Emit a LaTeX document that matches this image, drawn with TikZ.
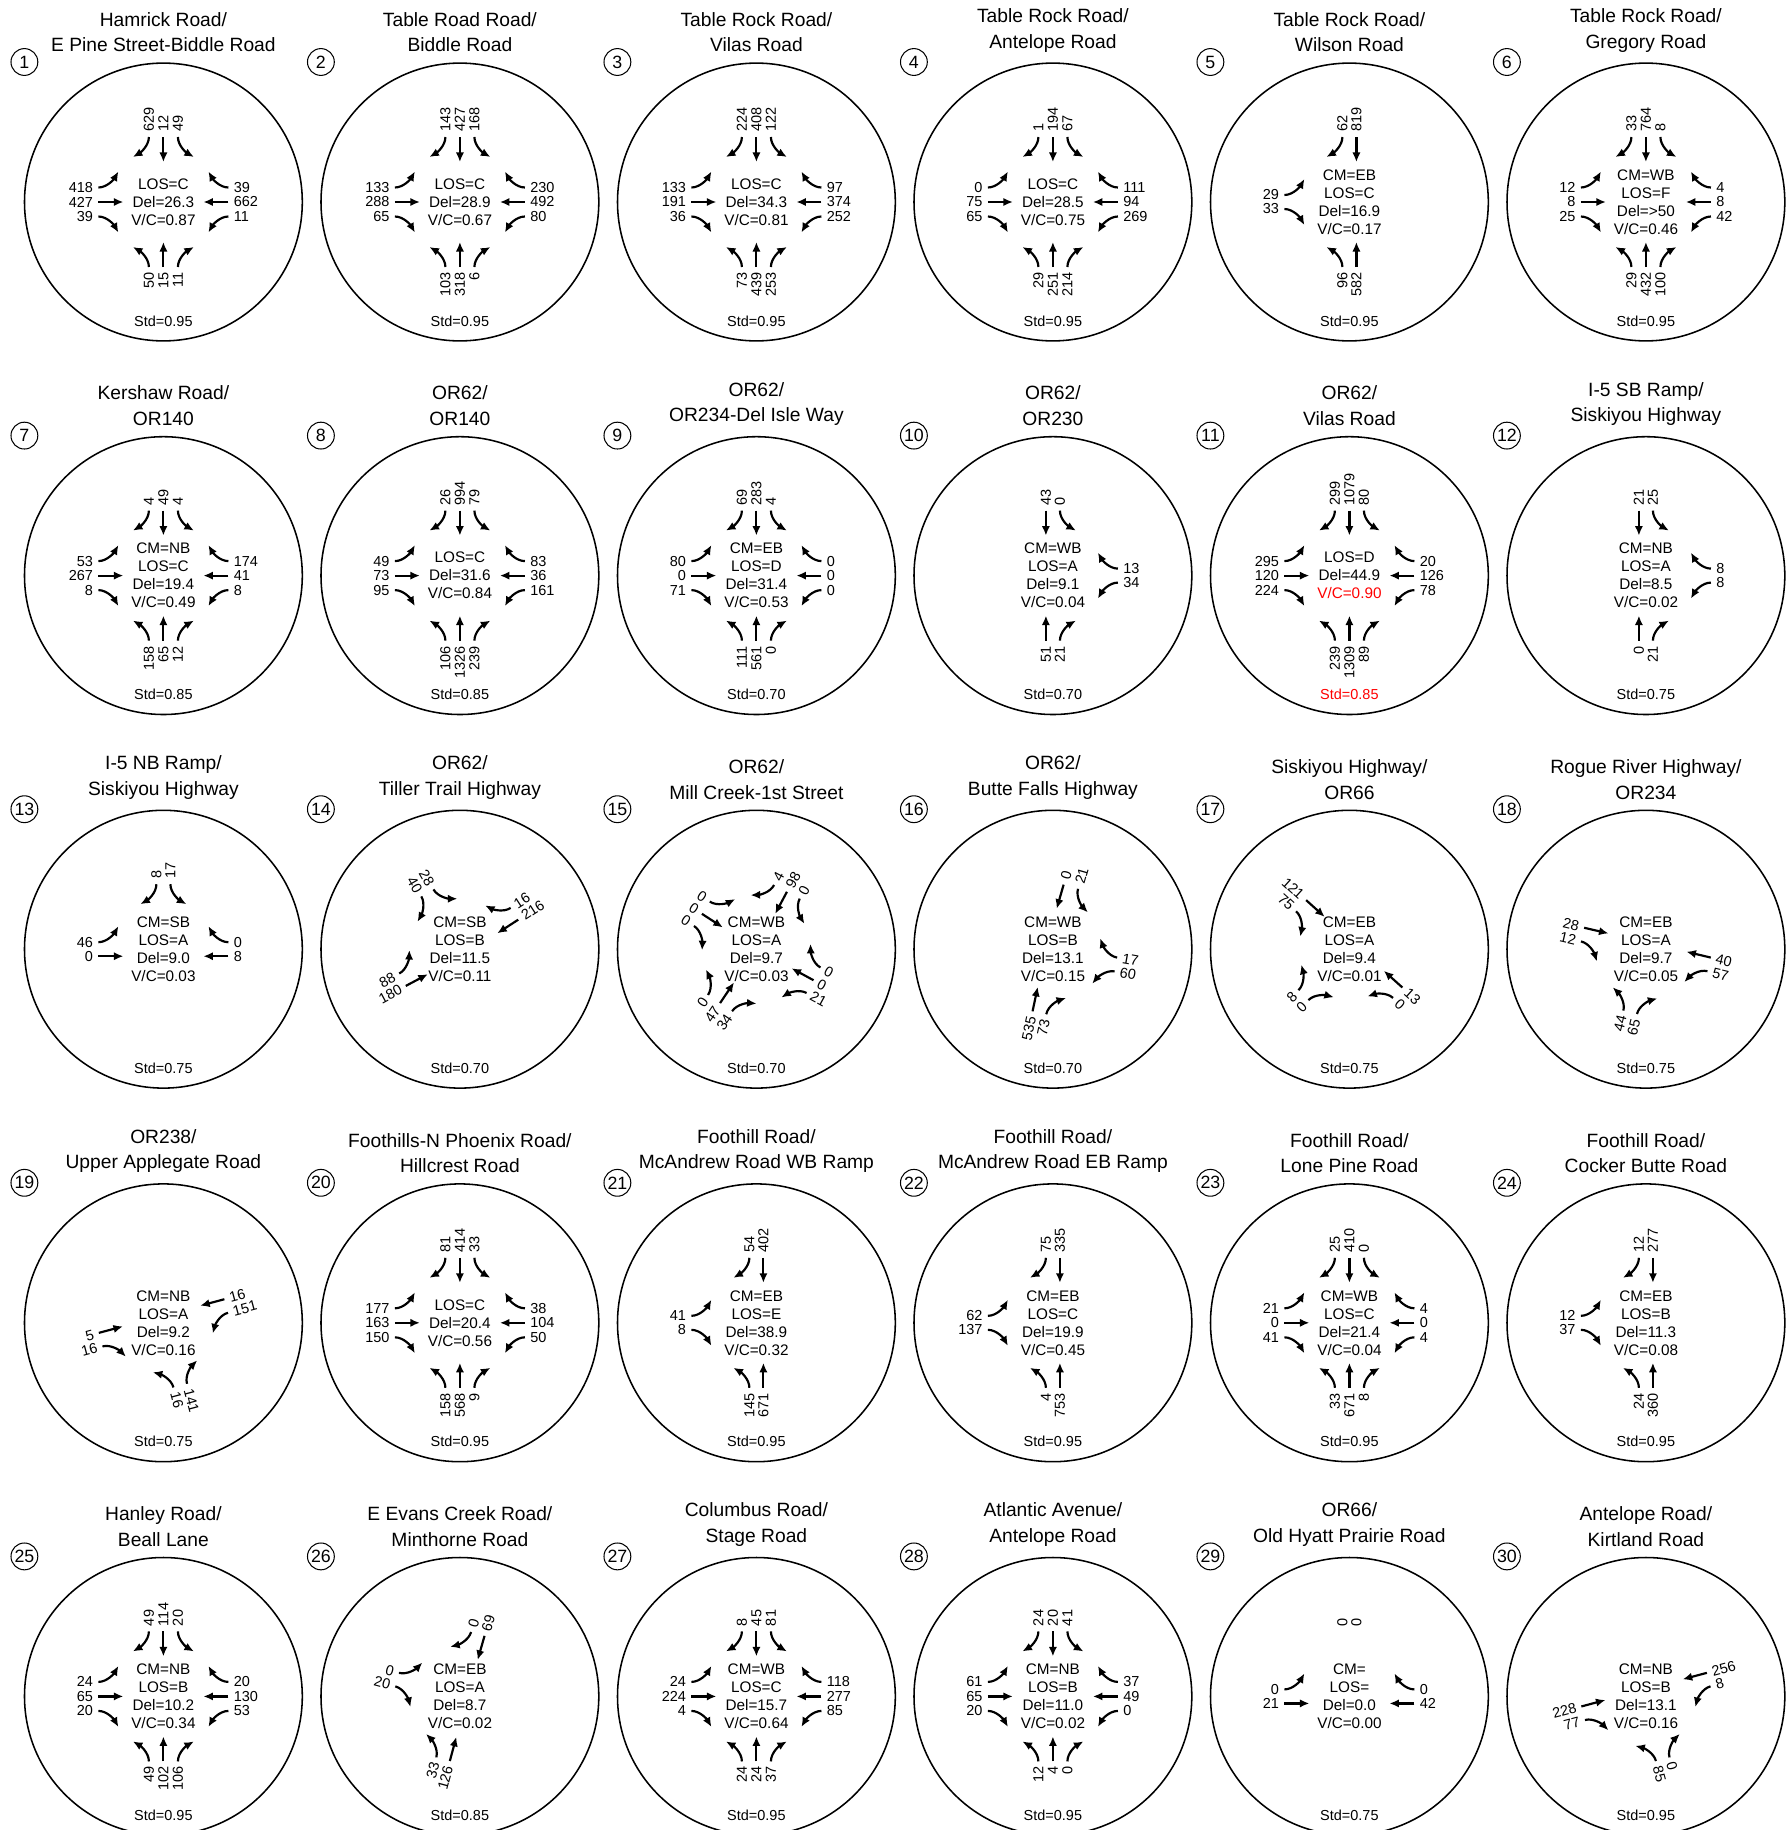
\documentclass[tikz,border=0pt]{standalone}
\usepackage{fontspec}
\setmainfont{Liberation Sans}
\usetikzlibrary{arrows.meta}

\tikzset{
  ring/.style={line width=0.75pt},
  mv/.style={line width=1.05pt,-{Latex[length=4.6pt,width=4pt]}},
  vol/.style={inner sep=0pt,font=\fontsize{7}{8}\selectfont},
  info/.style={inner sep=0pt,align=center,font=\fontsize{7.4}{8.7}\selectfont},
  ttl/.style={inner sep=0pt,align=center,anchor=south,font=\fontsize{9.3}{12.4}\selectfont},
  idx/.style={circle,draw,line width=0.5pt,inner sep=0pt,minimum size=0.456cm,font=\fontsize{8.6}{9}\selectfont},
}

%% movement arrows, local frame: traffic runs along +x
\newcommand\mvT{\draw[mv] (-65,\ly) -- (-40,\ly);}
\newcommand\mvA{%
  \pgfmathsetmacro\lya{\ly-9*\sg}\pgfmathsetmacro\lyb{\ly-16*\sg}%
  \draw[mv] (-65,\ly) .. controls (-56,\ly) and (-49,\lya) .. (-45,\lyb);}
\newcommand\mvB{%
  \pgfmathsetmacro\lya{\ly+9*\sg}\pgfmathsetmacro\lyb{\ly+16*\sg}%
  \draw[mv] (-65,\ly) .. controls (-56,\ly) and (-49,\lya) .. (-45,\lyb);}
\newcommand\mvN{}
%% one approach: [shift]{heading}{side sign}{label options}{kind/offset/volume}
\newcommand\leg[5][]{%
  \begin{scope}[#1,rotate=#2]
    \def\sg{#3}%
    \foreach \k/\s/\v in {#5}{%
      \pgfmathsetmacro\ly{\sg*\s}%
      \csname mv\k\endcsname
      \node[vol,#4] at (-70,\ly) {\v};
    }
  \end{scope}}
\newcommand\legE[2][0]{\leg{#1}{-1}{anchor=east,rotate=#1}{#2}}
\newcommand\legW[2][0]{\leg{180+#1}{1}{anchor=west,rotate=#1}{#2}}
\newcommand\legS[2][0]{\leg{-90+#1}{1}{anchor=west,rotate=90+#1}{#2}}
\newcommand\legN[2][0]{\leg{90+#1}{-1}{anchor=east,rotate=90+#1}{#2}}
%% one intersection: x, y, number, title, results, Std, approaches
\newcommand\site[7]{%
  \begin{scope}[shift={(#1,-#2)}]
    \draw[ring] (0,0) circle[radius=138.9];
    \node[idx] (n#3) at (-139,140) {#3};
    \node[ttl] (t#3) at (0,149.5) {#4};
    \node[info] (i#3) at (0,0) {#5};
    \node[vol] (d#3) at (0,-119) {#6};
    #7
  \end{scope}}

\begin{document}
\begin{tikzpicture}[x=0.017cm,y=0.017cm]
\fill[white] (0,0) rectangle (1792,-1830);
\useasboundingbox (0,0) rectangle (1792,-1830);
\clip (0,0) rectangle (1792,-1830);

%% row 1
\site{163.4}{202}{1}{Hamrick Road/\\E Pine Street-Biddle Road}{LOS=C\\Del=26.3\\V/C=0.87}{Std=0.95}{
  \legS{A/-14.5/629,T/0/12,B/14.5/49}
  \legE{A/-14.5/418,T/0/427,B/14.5/39}
  \legW{A/-14.5/39,T/0/662,B/14.5/11}
  \legN{A/-14.5/50,T/0/15,B/14.5/11}}
\site{459.9}{202}{2}{Table Road Road/\\Biddle Road}{LOS=C\\Del=28.9\\V/C=0.67}{Std=0.95}{
  \legS{A/-14.5/143,T/0/427,B/14.5/168}
  \legE{A/-14.5/133,T/0/288,B/14.5/65}
  \legW{A/-14.5/230,T/0/492,B/14.5/80}
  \legN{A/-14.5/103,T/0/318,B/14.5/6}}
\site{756.4}{202}{3}{Table Rock Road/\\Vilas Road}{LOS=C\\Del=34.3\\V/C=0.81}{Std=0.95}{
  \legS{A/-14.5/224,T/0/408,B/14.5/122}
  \legE{A/-14.5/133,T/0/191,B/14.5/36}
  \legW{A/-14.5/97,T/0/374,B/14.5/252}
  \legN{A/-14.5/73,T/0/439,B/14.5/253}}
\site{1052.9}{202}{4}{Table Rock Road/\\Antelope Road}{LOS=C\\Del=28.5\\V/C=0.75}{Std=0.95}{
  \legS{A/-14.5/1,T/0/194,B/14.5/67}
  \legE{A/-14.5/0,T/0/75,B/14.5/65}
  \legW{A/-14.5/111,T/0/94,B/14.5/269}
  \legN{A/-14.5/29,T/0/251,B/14.5/214}}
\site{1349.4}{202}{5}{Table Rock Road/\\Wilson Road}{CM=EB\\LOS=C\\Del=16.9\\V/C=0.17}{Std=0.95}{
  \legS{A/-7/62,T/7/819}
  \legE{A/-7/29,B/7/33}
  \legN{A/-7/96,T/7/582}}
\site{1645.9}{202}{6}{Table Rock Road/\\Gregory Road}{CM=WB\\LOS=F\\Del=>50\\V/C=0.46}{Std=0.95}{
  \legS{A/-14.5/33,T/0/764,B/14.5/8}
  \legE{A/-14.5/12,T/0/8,B/14.5/25}
  \legW{A/-14.5/4,T/0/8,B/14.5/42}
  \legN{A/-14.5/29,T/0/432,B/14.5/100}}

%% row 2
\site{163.4}{575.6}{7}{Kershaw Road/\\OR140}{CM=NB\\LOS=C\\Del=19.4\\V/C=0.49}{Std=0.85}{
  \legS{A/-14.5/4,T/0/49,B/14.5/4}
  \legE{A/-14.5/53,T/0/267,B/14.5/8}
  \legW{A/-14.5/174,T/0/41,B/14.5/8}
  \legN{A/-14.5/158,T/0/65,B/14.5/12}}
\site{459.9}{575.6}{8}{OR62/\\OR140}{LOS=C\\Del=31.6\\V/C=0.84}{Std=0.85}{
  \legS{A/-14.5/26,T/0/994,B/14.5/79}
  \legE{A/-14.5/49,T/0/73,B/14.5/95}
  \legW{A/-14.5/83,T/0/36,B/14.5/161}
  \legN{A/-14.5/106,T/0/1326,B/14.5/239}}
\site{756.4}{575.6}{9}{OR62/\\OR234-Del Isle Way}{CM=EB\\LOS=D\\Del=31.4\\V/C=0.53}{Std=0.70}{
  \legS{A/-14.5/69,T/0/283,B/14.5/4}
  \legE{A/-14.5/80,T/0/0,B/14.5/71}
  \legW{A/-14.5/0,T/0/0,B/14.5/0}
  \legN{A/-14.5/111,T/0/561,B/14.5/0}}
\site{1052.9}{575.6}{10}{OR62/\\OR230}{CM=WB\\LOS=A\\Del=9.1\\V/C=0.04}{Std=0.70}{
  \legS{T/-7/43,B/7/0}
  \legW{A/-7/13,B/7/34}
  \legN{T/-7/51,B/7/21}}
\site{1349.4}{575.6}{11}{OR62/\\Vilas Road}{LOS=D\\Del=44.9\\\textcolor{red}{V/C=0.90}}{\textcolor{red}{Std=0.85}}{
  \legS{A/-14.5/299,T/0/1079,B/14.5/80}
  \legE{A/-14.5/295,T/0/120,B/14.5/224}
  \legW{A/-14.5/20,T/0/126,B/14.5/78}
  \legN{A/-14.5/239,T/0/1309,B/14.5/89}}
\site{1645.9}{575.6}{12}{I-5 SB Ramp/\\Siskiyou Highway}{CM=NB\\LOS=A\\Del=8.5\\V/C=0.02}{Std=0.75}{
  \legS{T/-7/21,B/7/25}
  \legW{A/-7/8,B/7/8}
  \legN{T/-7/0,B/7/21}}

%% row 3
\site{163.4}{949.2}{13}{I-5 NB Ramp/\\Siskiyou Highway}{CM=SB\\LOS=A\\Del=9.0\\V/C=0.03}{Std=0.75}{
  \legS{A/-7/8,B/7/17}
  \legE{A/-7/46,T/7/0}
  \legW{A/-7/0,T/7/8}}
\site{459.9}{949.2}{14}{OR62/\\Tiller Trail Highway}{CM=SB\\LOS=B\\Del=11.5\\V/C=0.11}{Std=0.70}{
  \leg{-60}{1}{anchor=east,rotate=-60}{A/-7/40,B/7/28}
  \legW[33]{A/-7/16,T/7/216}
  \legE[28]{A/-7/88,T/7/180}}
\site{756.4}{949.2}{15}{OR62/\\Mill Creek-1st Street}{CM=WB\\LOS=A\\Del=9.7\\V/C=0.03}{Std=0.70}{
  \legS[-28]{A/-14.5/4,T/0/98,B/14.5/0}
  \legE[-33]{A/-14.5/0,T/0/0,B/14.5/0}
  \legN[-34]{A/-14.5/0,T/0/47,B/14.5/34}
  \legW[-28.5]{A/-14.5/0,T/0/0,B/14.5/21}}
\site{1052.9}{949.2}{16}{OR62/\\Butte Falls Highway}{CM=WB\\LOS=B\\Del=13.1\\V/C=0.15}{Std=0.70}{
  \legS[-16]{T/-7.5/0,B/7.5/21}
  \leg[shift={(-1,-4)}]{170}{1}{anchor=west,rotate=-10}{A/-7/17,B/7/60}
  \legN[-12]{T/-7/535,B/7/73}}
\site{1349.4}{949.2}{17}{Siskiyou Highway/\\OR66}{CM=EB\\LOS=A\\Del=9.4\\V/C=0.01}{Std=0.75}{
  \legE[-42]{T/-7.5/121,B/7.5/75}
  \legN[-45]{A/-7/8,B/7/0}
  \legW[-42]{T/-7/13,B/7/0}}
\site{1645.9}{949.2}{18}{Rogue River Highway/\\OR234}{CM=EB\\LOS=A\\Del=9.7\\V/C=0.05}{Std=0.75}{
  \legE[-13]{T/-7/28,B/7/12}
  \legW[-13.5]{T/-7/40,B/7/57}
  \legN[-14]{A/-7/44,B/7/65}}

%% row 4
\site{163.4}{1322.8}{19}{OR238/\\Upper Applegate Road}{CM=NB\\LOS=A\\Del=9.2\\V/C=0.16}{Std=0.75}{
  \legW[15]{T/-7/16,B/7/151}
  \legE[15]{T/-7/5,B/7/16}
  \leg{105}{-1}{anchor=west,rotate=-75}{A/-7/16,B/7/141}}
\site{459.9}{1322.8}{20}{Foothills-N Phoenix Road/\\Hillcrest Road}{LOS=C\\Del=20.4\\V/C=0.56}{Std=0.95}{
  \legS{A/-14.5/81,T/0/414,B/14.5/33}
  \legE{A/-14.5/177,T/0/163,B/14.5/150}
  \legW{A/-14.5/38,T/0/104,B/14.5/50}
  \legN{A/-14.5/158,T/0/568,B/14.5/9}}
\site{756.4}{1322.8}{21}{Foothill Road/\\McAndrew Road WB Ramp}{CM=EB\\LOS=E\\Del=38.9\\V/C=0.32}{Std=0.95}{
  \legS{A/-7/54,T/7/402}
  \legE{A/-7/41,B/7/8}
  \legN{A/-7/145,T/7/671}}
\site{1052.9}{1322.8}{22}{Foothill Road/\\McAndrew Road EB Ramp}{CM=EB\\LOS=C\\Del=19.9\\V/C=0.45}{Std=0.95}{
  \legS{A/-7/75,T/7/335}
  \legE{A/-7/62,B/7/137}
  \legN{A/-7/4,T/7/753}}
\site{1349.4}{1322.8}{23}{Foothill Road/\\Lone Pine Road}{CM=WB\\LOS=C\\Del=21.4\\V/C=0.04}{Std=0.95}{
  \legS{A/-14.5/25,T/0/410,B/14.5/0}
  \legE{A/-14.5/21,T/0/0,B/14.5/41}
  \legW{A/-14.5/4,T/0/0,B/14.5/4}
  \legN{A/-14.5/33,T/0/671,B/14.5/8}}
\site{1645.9}{1322.8}{24}{Foothill Road/\\Cocker Butte Road}{CM=EB\\LOS=B\\Del=11.3\\V/C=0.08}{Std=0.95}{
  \legS{A/-7/12,T/7/277}
  \legE{A/-7/12,B/7/37}
  \legN{A/-7/24,T/7/360}}

%% row 5
\site{163.4}{1696.4}{25}{Hanley Road/\\Beall Lane}{CM=NB\\LOS=B\\Del=10.2\\V/C=0.34}{Std=0.95}{
  \legS{A/-14.5/49,T/0/114,B/14.5/20}
  \legE{A/-14.5/24,T/0/65,B/14.5/20}
  \legW{A/-14.5/20,T/0/130,B/14.5/53}
  \legN{A/-14.5/49,T/0/102,B/14.5/106}}
\site{459.9}{1696.4}{26}{E Evans Creek Road/\\Minthorne Road}{CM=EB\\LOS=A\\Del=8.7\\V/C=0.02}{Std=0.85}{
  \legS[-16]{A/-7/0,T/7/69}
  \legE[-15]{A/-7/0,B/7/20}
  \legN[-15]{A/-7/33,T/7/126}}
\site{756.4}{1696.4}{27}{Columbus Road/\\Stage Road}{CM=WB\\LOS=C\\Del=15.7\\V/C=0.64}{Std=0.95}{
  \legS{A/-14.5/8,T/0/45,B/14.5/81}
  \legE{A/-14.5/24,T/0/224,B/14.5/4}
  \legW{A/-14.5/118,T/0/277,B/14.5/85}
  \legN{A/-14.5/24,T/0/24,B/14.5/37}}
\site{1052.9}{1696.4}{28}{Atlantic Avenue/\\Antelope Road}{CM=NB\\LOS=B\\Del=11.0\\V/C=0.02}{Std=0.95}{
  \legS{A/-14.5/24,T/0/20,B/14.5/41}
  \legE{A/-14.5/61,T/0/65,B/14.5/20}
  \legW{A/-14.5/37,T/0/49,B/14.5/0}
  \legN{A/-14.5/12,T/0/4,B/14.5/0}}
\site{1349.4}{1696.4}{29}{OR66/\\Old Hyatt Prairie Road}{CM=\\LOS=\\Del=0.0\\V/C=0.00}{Std=0.75}{
  \legS{N/-7/0,N/7/0}
  \legE{A/-7/0,T/7/21}
  \legW{A/-7/0,T/7/42}}
\site{1645.9}{1696.4}{30}{Antelope Road/\\Kirtland Road}{CM=NB\\LOS=B\\Del=13.1\\V/C=0.16}{Std=0.95}{
  \legW[15]{T/-7/256,B/7/8}
  \legE[15]{T/-7/228,B/7/77}
  \leg{105}{-1}{anchor=west,rotate=-75}{A/-7/85,B/7/0}}
\end{tikzpicture}
\end{document}
